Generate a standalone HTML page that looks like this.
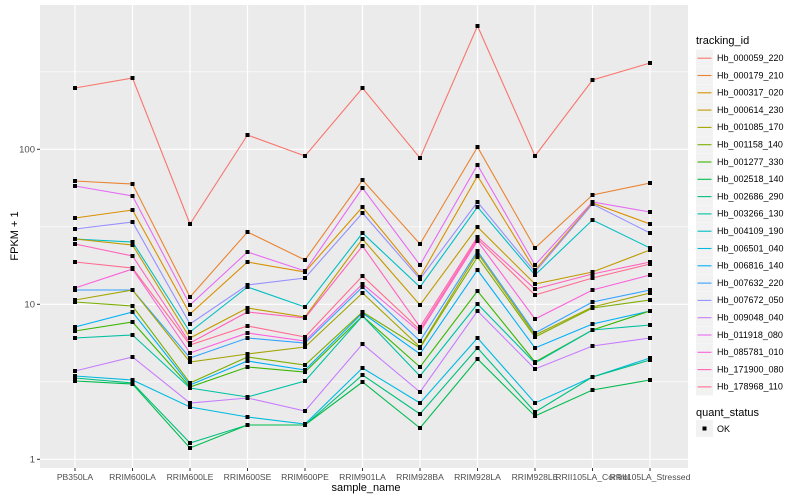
<!DOCTYPE html>
<html><head><meta charset="utf-8"><style>
html,body{margin:0;padding:0;background:#fff;}
svg{display:block;font-family:"Liberation Sans",sans-serif;}
</style></head><body>
<svg id="s" width="800" height="500" viewBox="0 0 800 500">
<rect x="40" y="5" width="648" height="463" fill="#ebebeb"/>
<g stroke="#fff" stroke-width="0.6">
<line x1="40" x2="688" y1="381.8" y2="381.8"/><line x1="40" x2="688" y1="226.8" y2="226.8"/><line x1="40" x2="688" y1="71.8" y2="71.8"/>
</g>
<g id="grid" stroke="#fff" stroke-width="1.2">
<line x1="40" x2="688" y1="459.3" y2="459.3"/><line x1="40" x2="688" y1="304.3" y2="304.3"/><line x1="40" x2="688" y1="149.3" y2="149.3"/>
</g>
<g id="lines" fill="none" stroke-width="1.1"></g>
<g id="pts" fill="#000"></g>
<g stroke="#333" stroke-width="1">
<line x1="37" x2="40" y1="459.3" y2="459.3"/><line x1="37" x2="40" y1="304.3" y2="304.3"/><line x1="37" x2="40" y1="149.3" y2="149.3"/>
</g>
<g id="xt" stroke="#333" stroke-width="1"></g>
<g font-size="9.5" fill="#4d4d4d" text-anchor="end">
<text x="35" y="462.5">1</text><text x="35" y="307.5">10</text><text x="35" y="152.5">100</text>
</g>
<g font-size="8.6" fill="#4d4d4d" text-anchor="middle">
<text x="75" y="480">PB350LA</text>
<text x="132.5" y="480">RRIM600LA</text>
<text x="190" y="480">RRIM600LE</text>
<text x="247.5" y="480">RRIM600SE</text>
<text x="305" y="480">RRIM600PE</text>
<text x="362.5" y="480">RRIM901LA</text>
<text x="420" y="480">RRIM928BA</text>
<text x="477.5" y="480">RRIM928LA</text>
<text x="535" y="480">RRIM928LE</text>
<text x="592.5" y="480">RRII105LA_Control</text>
<text x="650" y="480">RRII105LA_Stressed</text>
</g>
<text x="366" y="491" font-size="11" text-anchor="middle" fill="#000">sample_name</text>
<text transform="translate(18,236) rotate(-90)" font-size="11" text-anchor="middle" fill="#000">FPKM + 1</text>
<text x="696" y="44" font-size="11" fill="#000">tracking_id</text>
<g id="leg" font-size="9" fill="#000">
<text x="717" y="61">Hb_000059_220</text>
<text x="717" y="78.3">Hb_000179_210</text>
<text x="717" y="95.6">Hb_000317_020</text>
<text x="717" y="112.9">Hb_000614_230</text>
<text x="717" y="130.2">Hb_001085_170</text>
<text x="717" y="147.5">Hb_001158_140</text>
<text x="717" y="164.8">Hb_001277_330</text>
<text x="717" y="182.1">Hb_002518_140</text>
<text x="717" y="199.4">Hb_002686_290</text>
<text x="717" y="216.7">Hb_003266_130</text>
<text x="717" y="234">Hb_004109_190</text>
<text x="717" y="251.3">Hb_006501_040</text>
<text x="717" y="268.6">Hb_006816_140</text>
<text x="717" y="285.9">Hb_007632_220</text>
<text x="717" y="303.2">Hb_007672_050</text>
<text x="717" y="320.5">Hb_009048_040</text>
<text x="717" y="337.8">Hb_011918_080</text>
<text x="717" y="355.1">Hb_085781_010</text>
<text x="717" y="372.4">Hb_171900_080</text>
<text x="717" y="389.7">Hb_178968_110</text>
</g>
<g id="legk"></g>
<text x="696" y="416" font-size="11" fill="#000">quant_status</text>
<rect x="696" y="420" width="17" height="17" fill="#f2f2f2"/>
<rect x="702.5" y="426.5" width="4" height="4" fill="#000"/>
<text x="717" y="432" font-size="9" fill="#000">OK</text>
</svg>
<script>
var X=[75,132.5,190,247.5,305,362.5,420,477.5,535,592.5,650];
var C=[
[88,181,186,218,229,239,239,244,262,288,290,300,302,327,331,338,371,376,378,381],
[78,184,196,210,222,242,245,256,268,269,290,290,306,312,322,335,357,380,383,384],
[224,297,305,314,324,332,338,343,345,353,358,362,383,385,387,388,403,407,443,448],
[135,232,252,262,285,287,308,312,326,333,338,354,357,361,367,397,398,417,425,425],
[156,260,271,272,278,307,317,318,337,341,343,347,365,370,372,381,411,424,425,425],
[88,180,188,207,213,233,239,246,276,284,287,293,312,313,316,316,344,368,375,382],
[158,244,265,277,279,287,305,327,330,332,341,347,348,354,367,376,392,403,414,428],
[26,147,165,176,202,207,227,237,239,241,251,253,257,270,291,304,311,338,348,359],
[156,248,265,270,272,275,284,289,295,319,333,335,337,348,362,363,369,403,412,416],
[80,195,202,203,204,220,272,274,278,290,302,307,308,324,330,330,346,377,377,390],
[63,183,212,224,233,248,250,262,264,275,290,293,300,311,311,325,338,358,360,380]];
var pal=["#F8766D","#EA8331","#D89000","#C09B00","#A3A500","#7CAE00","#39B600","#00BB4E","#00BF7D","#00C1A3","#00BFC4","#00BAE0","#00B0F6","#35A2FF","#9590FF","#C77CFF","#E76BF3","#FA62DB","#FF62BC","#FF6C91"];
var rc=["#F8766D","#EA8331","#E76BF3","#D89000","#9590FF","#00BFC4","#C09B00","#FF62BC","#FF6C91","#FA62DB","#35A2FF","#A3A500","#7CAE00","#00B0F6","#39B600","#00C1A3","#C77CFF","#00BAE0","#00BF7D","#00BB4E"];
var NS="http://www.w3.org/2000/svg";
function el(t,a,p){var e=document.createElementNS(NS,t);for(var k in a)e.setAttribute(k,a[k]);document.getElementById(p).appendChild(e);return e;}
X.forEach(function(x){el("line",{x1:x,x2:x,y1:5,y2:468,stroke:"#fff","stroke-width":1.2},"grid");el("line",{x1:x,x2:x,y1:468,y2:471},"xt");});
for(var r=0;r<20;r++){var d="";for(var i=0;i<11;i++){d+=(i?"L":"M")+X[i]+","+C[i][r];}
el("path",{d:d,stroke:rc[r]},"lines");}
for(var i=0;i<11;i++)for(var r=0;r<20;r++)el("rect",{x:X[i]-2,y:C[i][r]-2,width:4,height:4},"pts");
for(var k=0;k<20;k++){var y=49.7+k*17.3;el("rect",{x:696,y:y,width:17,height:17,fill:"#f2f2f2"},"legk");el("line",{x1:697.5,x2:711.5,y1:y+8.5,y2:y+8.5,stroke:pal[k],"stroke-width":1.1},"legk");}
</script>
</body></html>
